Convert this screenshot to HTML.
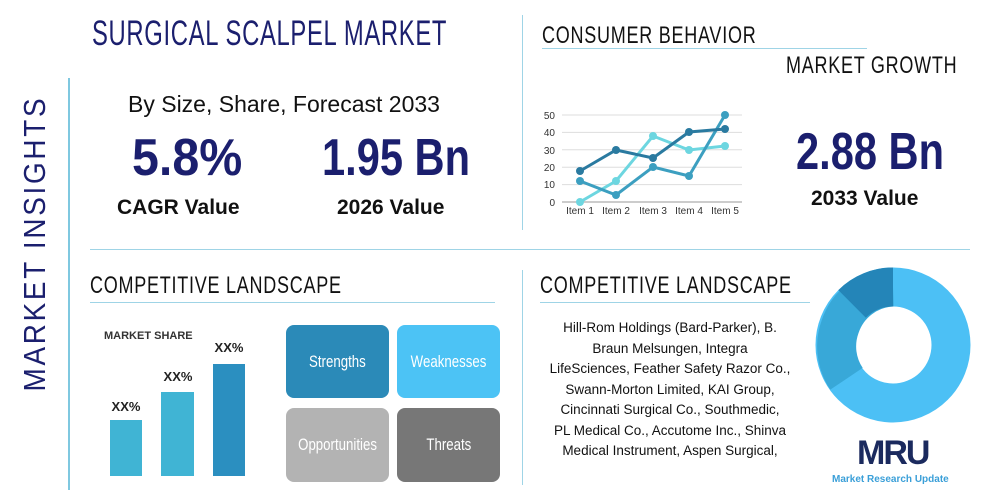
<!DOCTYPE html>
<html><head><meta charset="utf-8"><style>
body{margin:0;width:1000px;height:500px;background:#fff;position:relative;overflow:hidden;font-family:"Liberation Sans",sans-serif}
.a{position:absolute;white-space:nowrap}
.t{color:#1b1f6e}
.h{color:#111;font-size:24px;letter-spacing:1px;transform:scaleX(0.75);transform-origin:0 0}
.big{font-size:52px;font-weight:bold;transform:scaleX(0.8);transform-origin:0 0}
.box{position:absolute;border-radius:8px;color:#fff;font-size:17px;display:flex;align-items:center;justify-content:center}
.box span{display:inline-block;transform:scaleX(0.78)}
</style></head><body>
<div class="a t" style="left:92px;top:14px;font-size:35px;letter-spacing:1px;transform:scaleX(0.68);transform-origin:0 0">SURGICAL SCALPEL MARKET</div>
<div class="a t" style="left:-110px;top:226px;font-size:31px;letter-spacing:3px;transform:rotate(-90deg) scaleX(0.9);width:290px;text-align:center;margin-top:17px">MARKET INSIGHTS</div>
<div class="a" style="left:68px;top:78px;width:2px;height:412px;background:#7fc8e0"></div>
<div class="a" style="left:90px;top:249px;width:880px;height:1px;background:#9fd4e6"></div>
<div class="a" style="left:522px;top:15px;width:1px;height:215px;background:#9fd4e6"></div>
<div class="a" style="left:522px;top:270px;width:1px;height:215px;background:#9fd4e6"></div>
<div class="a" style="left:128px;top:91px;font-size:23px;color:#111">By Size, Share, Forecast 2033</div>
<div class="a t big" style="left:132px;top:128px;transform:scaleX(0.93)">5.8%</div>
<div class="a" style="left:117px;top:196px;font-size:21px;font-weight:bold;color:#111">CAGR Value</div>
<div class="a t big" style="left:322px;top:128px">1.95 Bn</div>
<div class="a" style="left:337px;top:196px;font-size:21px;font-weight:bold;color:#111">2026 Value</div>
<div class="a h" style="left:542px;top:22px">CONSUMER BEHAVIOR</div>
<div class="a" style="left:542px;top:48px;width:325px;height:1px;background:#9fd4e6"></div>
<div class="a h" style="left:786px;top:52px">MARKET GROWTH</div>
<div class="a t big" style="left:796px;top:122px">2.88 Bn</div>
<div class="a" style="left:811px;top:187px;font-size:21px;font-weight:bold;color:#111">2033 Value</div>
<svg class="a" style="left:0;top:0" width="1000" height="500">
<g font-size="10" fill="#333" font-family="Liberation Sans">
<g stroke="#ddd" stroke-width="1">
<line x1="562" x2="742" y1="115" y2="115"/><line x1="562" x2="742" y1="132.4" y2="132.4"/><line x1="562" x2="742" y1="149.8" y2="149.8"/><line x1="562" x2="742" y1="167.2" y2="167.2"/><line x1="562" x2="742" y1="184.6" y2="184.6"/></g>
<line x1="562" x2="742" y1="202" y2="202" stroke="#999"/>
<text x="555" y="119" text-anchor="end">50</text><text x="555" y="136" text-anchor="end">40</text><text x="555" y="154" text-anchor="end">30</text><text x="555" y="171" text-anchor="end">20</text><text x="555" y="188" text-anchor="end">10</text><text x="555" y="206" text-anchor="end">0</text>
<text x="580" y="214" text-anchor="middle">Item 1</text><text x="616" y="214" text-anchor="middle">Item 2</text><text x="653" y="214" text-anchor="middle">Item 3</text><text x="689" y="214" text-anchor="middle">Item 4</text><text x="725" y="214" text-anchor="middle">Item 5</text>
</g>
<g fill="none" stroke-width="3">
<polyline stroke="#6dd6e0" points="580,202 616,181 653,136 689,150 725,146"/>
<polyline stroke="#3c9fc0" points="580,181 616,195 653,167 689,176 725,115"/>
<polyline stroke="#2a7aa0" points="580,171 616,150 653,158 689,132 725,129"/>
</g>
<g fill="#6dd6e0"><circle cx="580" cy="202" r="4"/><circle cx="616" cy="181" r="4"/><circle cx="653" cy="136" r="4"/><circle cx="689" cy="150" r="4"/><circle cx="725" cy="146" r="4"/></g>
<g fill="#3c9fc0"><circle cx="580" cy="181" r="4"/><circle cx="616" cy="195" r="4"/><circle cx="653" cy="167" r="4"/><circle cx="689" cy="176" r="4"/><circle cx="725" cy="115" r="4"/></g>
<g fill="#2a7aa0"><circle cx="580" cy="171" r="4"/><circle cx="616" cy="150" r="4"/><circle cx="653" cy="158" r="4"/><circle cx="689" cy="132" r="4"/><circle cx="725" cy="129" r="4"/></g>
<g fill="none" stroke-width="39">
<circle cx="893" cy="345" r="58" stroke="#4cc0f5"/>
<path d="M846.5,378.8 A58,58 0 0 1 840,327 A58,58 0 0 1 893,287" stroke="#38a8d8"/>
<path d="M852.1,303.9 A58,58 0 0 1 893,287" stroke="#2485b8"/>
</g>
<rect x="110" y="420" width="32" height="56" fill="#40b4d4"/>
<rect x="161" y="392" width="33" height="84" fill="#40b4d4"/>
<rect x="213" y="364" width="32" height="112" fill="#2b8fc0"/>
<g font-size="13" font-weight="bold" fill="#222" font-family="Liberation Sans" text-anchor="middle">
<text x="126" y="411">XX%</text><text x="178" y="381">XX%</text><text x="229" y="352">XX%</text></g>
<text x="104" y="339" font-size="11" font-weight="bold" fill="#333" font-family="Liberation Sans">MARKET SHARE</text>
</svg>
<div class="a h" style="left:90px;top:272px">COMPETITIVE LANDSCAPE</div>
<div class="a" style="left:90px;top:302px;width:405px;height:1px;background:#9fd4e6"></div>
<div class="a h" style="left:540px;top:272px">COMPETITIVE LANDSCAPE</div>
<div class="a" style="left:540px;top:302px;width:270px;height:1px;background:#9fd4e6"></div>
<div class="box" style="left:286px;top:325px;width:103px;height:73px;background:#2b8ab8"><span>Strengths</span></div>
<div class="box" style="left:397px;top:325px;width:103px;height:73px;background:#4cc3f5"><span>Weaknesses</span></div>
<div class="box" style="left:286px;top:408px;width:103px;height:74px;background:#b3b3b3"><span>Opportunities</span></div>
<div class="box" style="left:397px;top:408px;width:103px;height:74px;background:#777"><span>Threats</span></div>
<div class="a" style="left:530px;top:318px;width:280px;text-align:center;font-size:13.5px;line-height:20.5px;color:#111">Hill-Rom Holdings (Bard-Parker), B.<br>Braun Melsungen, Integra<br>LifeSciences, Feather Safety Razor Co.,<br>Swann-Morton Limited, KAI Group,<br>Cincinnati Surgical Co., Southmedic,<br>PL Medical Co., Accutome Inc., Shinva<br>Medical Instrument, Aspen Surgical,</div>
<div class="a" style="left:857px;top:434px;font-size:34px;font-weight:900;color:#1b2a5e;letter-spacing:-2px">MRU</div>
<div class="a" style="left:832px;top:474px;font-size:10px;font-weight:bold;color:#3a9fd8">Market Research Update</div>
</body></html>
